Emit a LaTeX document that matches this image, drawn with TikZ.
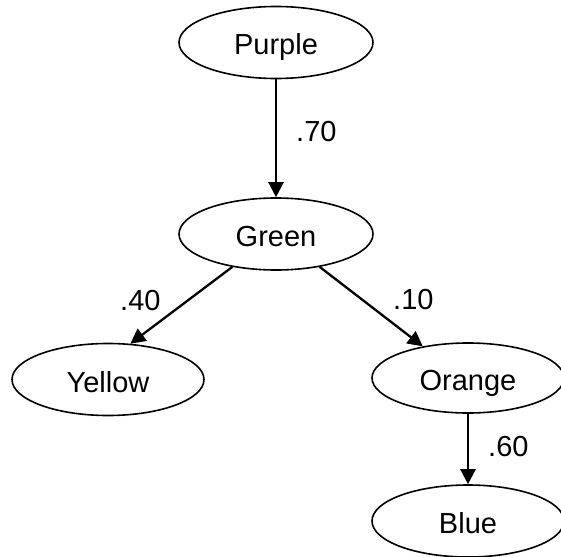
\documentclass[tikz,border=0pt]{standalone}
\usepackage{fontspec}
\setmainfont{Liberation Sans}
\usetikzlibrary{shapes.geometric,arrows.meta}
\begin{document}
\begin{tikzpicture}[x=1pt,y=-1pt,
  state/.style={ellipse,draw,line width=1.6pt,inner sep=0pt,minimum width=194pt,minimum height=72pt,
     font=\fontsize{29}{34}\selectfont,text height=25pt,text depth=0pt},
  prob/.style={anchor=base west,inner sep=0pt,font=\fontsize{29}{34}\selectfont},
  link/.style={line width=2.3pt,-{Triangle[length=15pt,width=15pt]}}]
\useasboundingbox (0,0) rectangle (561,556);
\clip (0,0) rectangle (561,556);
\node[state] (purple) at (276,42.5) {Purple};
\node[state] (green) at (276,234) {Green};
\node[state,minimum width=192pt] (yellow) at (108,379.5) {Yellow};
\node[state,minimum width=192pt,minimum height=70pt] (orange) at (468,378) {Orange};
\node[state,minimum width=192pt] (blue) at (468,521) {Blue};
\draw[link] (purple.south) -- (green.north);
\draw[link] (green.217) -- (yellow.58);
\draw[link] (green.323.7) -- (orange.145);
\draw[link] (orange.south) -- (blue.north);
\node[prob] (l70) at (296,142) {.70};
\node[prob] (l40) at (120,310) {.40};
\node[prob] (l10) at (393,309) {.10};
\node[prob] (l60) at (488,456) {.60};
\end{tikzpicture}
\end{document}
